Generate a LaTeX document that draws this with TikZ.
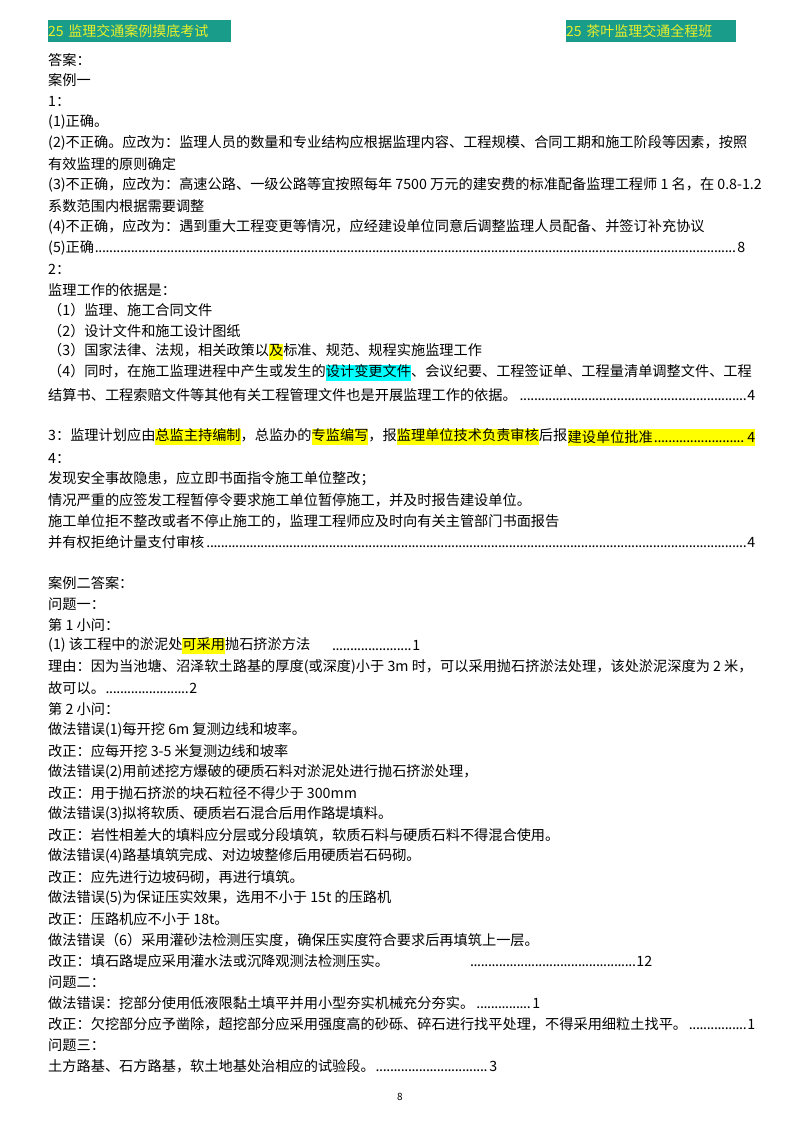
\documentclass[tikz,border=0pt]{standalone}
\usepackage{fontspec}
\usetikzlibrary{calc}
\setmainfont{Noto Sans CJK SC}
\definecolor{hdbg}{HTML}{1A9C8A}
\definecolor{hdfg}{HTML}{E8EF2A}
\definecolor{hly}{HTML}{FFFF00}
\definecolor{hlc}{HTML}{00FFFF}
\newcommand\dl{\leaders\hbox to 3.6pt{\hss.\hss}\hfill}
\newcommand\hy[1]{{\setlength\fboxsep{0pt}\colorbox{hly}{\strut #1}}}
\newcommand\hc[1]{{\setlength\fboxsep{0pt}\colorbox{hlc}{\strut #1}}}
\newcommand\ld[3]{\makebox[#1pt][l]{#2\dl #3}}
\begin{document}
\begin{tikzpicture}[x=1pt,y=-1pt,
  txt/.style={anchor=west,inner sep=0pt,font=\fontsize{14.2}{16}\selectfont},
  hd/.style={anchor=west,inner sep=0pt,fill=hdbg,text=hdfg,font=\fontsize{14}{16}\selectfont,minimum height=22pt}]
\useasboundingbox (0,0) rectangle (800,1132);
\node[hd,text width=183pt] (h1) at (48,31) {25 监理交通案例摸底考试};
\node[hd,text width=170pt] (h2) at (566,31) {25 茶叶监理交通全程班};
\newcommand\ml[3]{\node[txt] (#1) at (48,#2) {#3};}
\ml{a1}{60}{答案：}
\ml{a2}{80}{案例一}
\ml{a3}{101}{1：}
\ml{a4}{122}{(1)正确。}
\ml{a5}{143}{(2)不正确。应改为：监理人员的数量和专业结构应根据监理内容、工程规模、合同工期和施工阶段等因素，按照}
\ml{a6}{164}{有效监理的原则确定}
\ml{a7}{185}{(3)不正确，应改为：高速公路、一级公路等宜按照每年 7500 万元的建安费的标准配备监理工程师 1 名，在 0.8-1.2}
\ml{a8}{206}{系数范围内根据需要调整}
\ml{a9}{227}{(4)不正确，应改为：遇到重大工程变更等情况，应经建设单位同意后调整监理人员配备、并签订补充协议}
\ml{a10}{248}{\ld{697}{(5)正确}{8}}
\ml{a11}{269}{2：}
\ml{a12}{290}{监理工作的依据是：}
\ml{a13}{310}{（1）监理、施工合同文件}
\ml{a14}{331}{（2）设计文件和施工设计图纸}
\ml{a15}{352}{（3）国家法律、法规，相关政策以\hy{及}标准、规范、规程实施监理工作}
\ml{a16}{373}{（4）同时，在施工监理进程中产生或发生的\hc{设计变更文件}、会议纪要、工程签证单、工程量清单调整文件、工程}
\ml{a17}{395}{\ld{707}{结算书、工程索赔文件等其他有关工程管理文件也是开展监理工作的依据。}{4}}
\ml{a18}{437}{3：监理计划应由\hy{总监主持编制}，总监办的\hy{专监编写}，报\hy{监理单位技术负责审核}后报}
\path let \p1=(a18.east) in node[txt,fill=hly,minimum height=17pt,minimum width={755pt-\x1}] (a18b) at (a18.east) {\makebox[\dimexpr755pt-\x1][l]{建设单位批准\dl 4}};
\ml{a19}{458}{4：}
\ml{a20}{479}{发现安全事故隐患，应立即书面指令施工单位整改；}
\ml{a21}{500}{情况严重的应签发工程暂停令要求施工单位暂停施工，并及时报告建设单位。}
\ml{a22}{521}{施工单位拒不整改或者不停止施工的，监理工程师应及时向有关主管部门书面报告}
\ml{a23}{542}{\ld{707}{并有权拒绝计量支付审核}{4}}
\ml{b1}{583}{案例二答案：}
\ml{b2}{604}{问题一：}
\ml{b3}{625}{第 1 小问：}
\ml{b4}{646}{(1) 该工程中的淤泥处\hy{可采用}抛石挤淤方法}
\node[txt] (b4d) at (332,646) {\ld{88}{}{1}};
\ml{b5}{667}{理由：因为当池塘、沼泽软土路基的厚度(或深度)小于 3m 时，可以采用抛石挤淤法处理，该处淤泥深度为 2 米，}
\ml{b6}{688}{\ld{149}{故可以。}{2}}
\ml{b7}{709}{第 2 小问：}
\ml{b8}{730}{做法错误(1)每开挖 6m 复测边线和坡率。}
\ml{b9}{751}{改正：应每开挖 3-5 米复测边线和坡率}
\ml{b10}{772}{做法错误(2)用前述挖方爆破的硬质石料对淤泥处进行抛石挤淤处理，}
\ml{b11}{793}{改正：用于抛石挤淤的块石粒径不得少于 300mm}
\ml{b12}{814}{做法错误(3)拟将软质、硬质岩石混合后用作路堤填料。}
\ml{b13}{835}{改正：岩性相差大的填料应分层或分段填筑，软质石料与硬质石料不得混合使用。}
\ml{b14}{856}{做法错误(4)路基填筑完成、对边坡整修后用硬质岩石码砌。}
\ml{b15}{877}{改正：应先进行边坡码砌，再进行填筑。}
\ml{b16}{898}{做法错误(5)为保证压实效果，选用不小于 15t 的压路机}
\ml{b17}{919}{改正：压路机应不小于 18t。}
\ml{b18}{940}{做法错误（6）采用灌砂法检测压实度，确保压实度符合要求后再填筑上一层。}
\ml{b19}{961}{改正：填石路堤应采用灌水法或沉降观测法检测压实。}
\node[txt] (b19d) at (470,961) {\ld{182}{}{12}};
\ml{b20}{982}{问题二：}
\ml{b21}{1003}{\ld{492}{做法错误：挖部分使用低液限黏土填平并用小型夯实机械充分夯实。}{1}}
\ml{b22}{1024}{\ld{707}{改正：欠挖部分应予凿除，超挖部分应采用强度高的砂砾、碎石进行找平处理，不得采用细粒土找平。}{1}}
\ml{b23}{1045}{问题三：}
\ml{b24}{1066}{\ld{449}{土方路基、石方路基，软土地基处治相应的试验段。}{3}}
\node[inner sep=0pt,font=\fontsize{10}{12}\selectfont] (pg) at (400,1097) {8};
\end{tikzpicture}
\end{document}
